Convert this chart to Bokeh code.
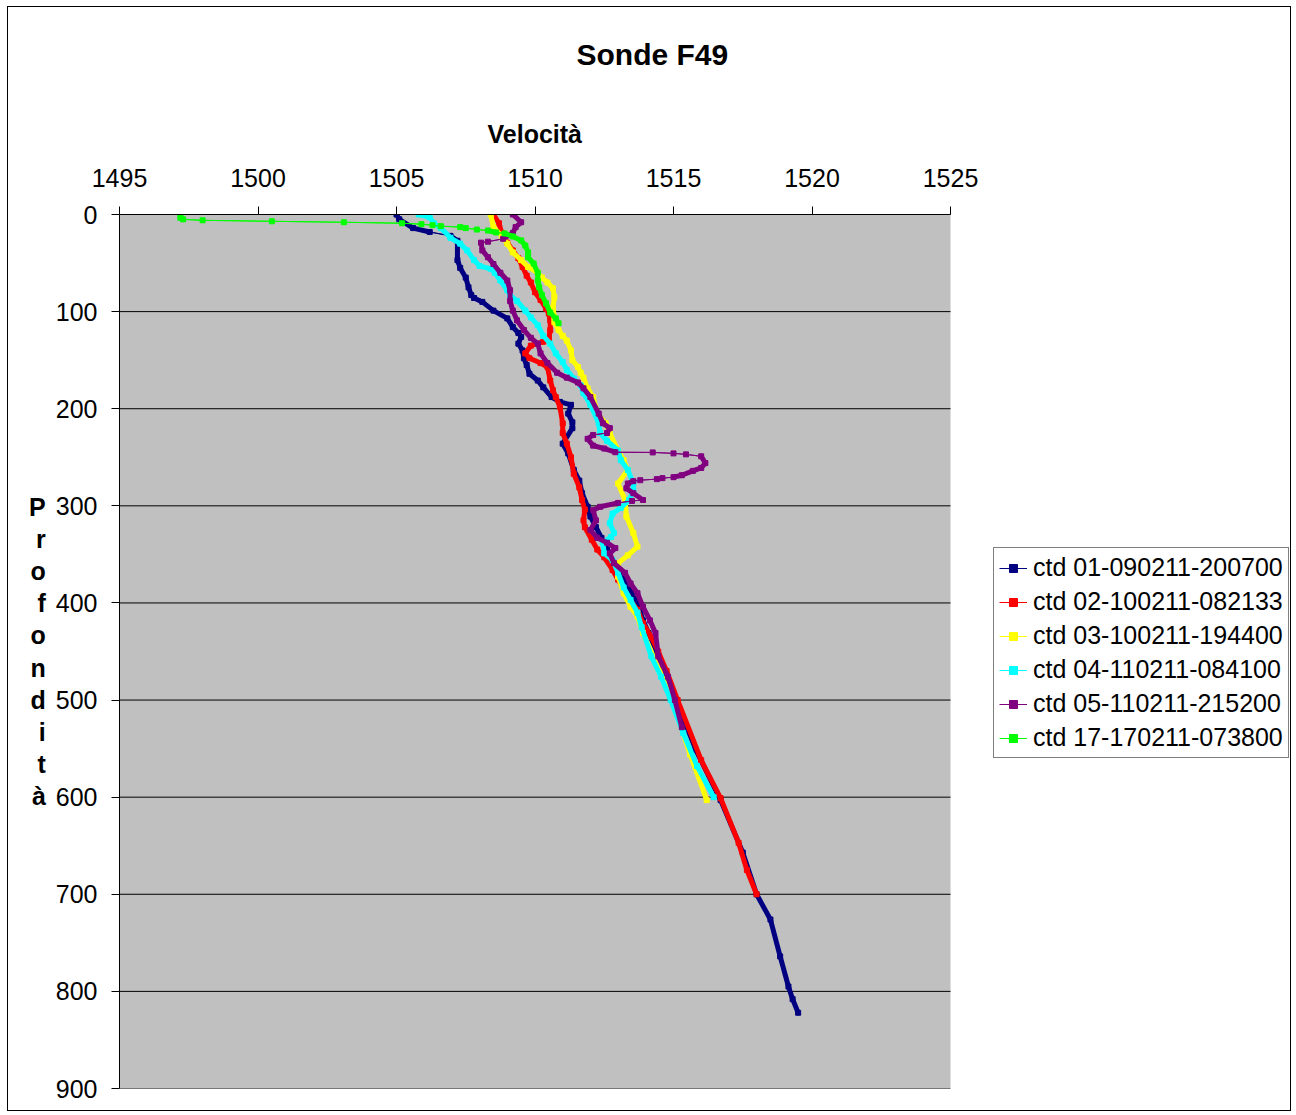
from bokeh.plotting import figure
from bokeh.models import Range1d, Legend, LegendItem, FixedTicker, ColumnDataSource, Title
from bokeh.embed import file_html
from bokeh.resources import INLINE

# ---------------- data ----------------
title_text = "Sonde F49"
x_title = "Velocità"
y_title = "Profondità"
x_ticks = [1495, 1500, 1505, 1510, 1515, 1520, 1525]
y_ticks = [0, 100, 200, 300, 400, 500, 600, 700, 800, 900]

names = ["ctd 01-090211-200700", "ctd 02-100211-082133", "ctd 03-100211-194400",
         "ctd 04-110211-084100", "ctd 05-110211-215200", "ctd 17-170211-073800"]
colors = ["#000080", "#FF0000", "#FFFF00", "#00FFFF", "#800080", "#00FF00"]

depth_01 = [0, 5, 14, 18, 22, 27, 47, 55, 65, 75, 83, 86, 90, 99, 107, 116, 122, 126, 133, 140,
            148, 155, 164, 171, 178, 188, 193, 196, 205, 214, 220, 236, 246, 263, 274, 287, 301,
            311, 322, 333, 345, 358, 369, 387, 404, 418, 431, 450, 500, 551, 603, 657, 700, 726,
            764, 795, 808, 822]
vel_01 = [1505.0, 1505.1, 1505.6, 1506.2, 1506.95, 1507.2, 1507.2, 1507.3, 1507.5, 1507.6, 1507.7,
          1507.8, 1508.1, 1508.5, 1509.0, 1509.2, 1509.4, 1509.5, 1509.4, 1509.55, 1509.6, 1509.7,
          1509.8, 1510.1, 1510.3, 1510.6, 1510.9, 1511.3, 1511.2, 1511.35, 1511.35, 1511.0, 1511.2,
          1511.4, 1511.6, 1511.7, 1511.9, 1512.0, 1512.2, 1512.4, 1512.6, 1512.8, 1513.1, 1513.45,
          1513.75, 1513.9, 1514.1, 1514.4, 1515.1, 1515.8, 1516.7, 1517.5, 1518.0, 1518.5, 1518.85,
          1519.15, 1519.3, 1519.5]

depth_02 = [0, 9, 19, 29, 37, 45, 54, 63, 70, 80, 88, 97, 102, 109, 119, 128, 131, 135, 143, 148,
            153, 157, 171, 181, 188, 198, 215, 225, 236, 250, 267, 281, 294, 304, 315, 322, 335,
            345, 353, 366, 376, 394, 407, 421, 435, 450, 470, 500, 562, 601, 647, 675, 700]
vel_02 = [1508.5, 1508.7, 1508.8, 1509.0, 1509.2, 1509.4, 1509.55, 1509.7, 1509.85, 1510.0, 1510.2,
          1510.4, 1510.5, 1510.55, 1510.55, 1510.5, 1510.3, 1509.85, 1509.65, 1509.8, 1510.2,
          1510.45, 1510.55, 1510.65, 1510.75, 1510.9, 1511.0, 1511.0, 1511.15, 1511.3, 1511.4,
          1511.6, 1511.7, 1511.8, 1511.75, 1511.8, 1512.05, 1512.25, 1512.5, 1512.8, 1513.0,
          1513.35, 1513.7, 1513.9, 1514.2, 1514.45, 1514.75, 1515.15, 1516.0, 1516.7, 1517.35,
          1517.65, 1518.0]

depth_03 = [0, 13, 22, 30, 39, 47, 54, 60, 65, 70, 76, 85, 96, 106, 111, 119, 125, 130, 140, 150,
            157, 163, 168, 179, 188, 205, 215, 225, 243, 253, 263, 277, 294, 311, 328, 342, 351,
            359, 373, 390, 404, 414, 431, 470, 500, 556, 603]
vel_03 = [1508.4, 1508.5, 1508.8, 1509.0, 1509.2, 1509.5, 1509.75, 1510.1, 1510.25, 1510.45,
          1510.65, 1510.7, 1510.65, 1510.7, 1510.7, 1510.85, 1511.0, 1511.15, 1511.3, 1511.35,
          1511.55, 1511.65, 1511.75, 1511.9, 1512.1, 1512.25, 1512.55, 1512.7, 1513.0, 1513.2,
          1513.35, 1513.0, 1513.25, 1513.3, 1513.55, 1513.7, 1513.35, 1513.0, 1513.0, 1513.2,
          1513.45, 1513.7, 1513.9, 1514.5, 1514.95, 1515.6, 1516.2]

depth_04 = [0, 3, 9, 14, 24, 30, 37, 47, 53, 56, 60, 68, 78, 83, 89, 99, 106, 114, 125, 133, 143,
            152, 160, 169, 176, 184, 196, 215, 225, 233, 243, 253, 263, 277, 284, 294, 302, 308,
            318, 328, 332, 338, 349, 356, 369, 384, 397, 410, 425, 455, 476, 500, 534, 568, 600]
vel_04 = [1505.8, 1506.2, 1506.35, 1506.6, 1506.95, 1507.3, 1507.55, 1507.8, 1508.0, 1508.4,
          1508.55, 1508.75, 1509.0, 1509.1, 1509.35, 1509.65, 1509.85, 1510.1, 1510.3, 1510.55,
          1510.75, 1511.0, 1511.15, 1511.4, 1511.65, 1511.75, 1512.0, 1512.3, 1512.35, 1512.6,
          1513.0, 1513.1, 1513.35, 1513.55, 1513.55, 1513.4, 1513.1, 1512.8, 1512.7, 1512.85,
          1512.75, 1512.45, 1512.5, 1512.8, 1513.0, 1513.2, 1513.45, 1513.7, 1513.85, 1514.2,
          1514.55, 1514.9, 1515.35, 1515.85, 1516.45]

depth_05 = [0, 8, 13, 19, 25, 28, 29, 37, 44, 51, 60, 68, 78, 89, 99, 109, 119, 127, 133, 143, 153,
            163, 168, 173, 179, 188, 205, 215, 220, 225, 227, 231, 238, 241, 244.8, 245, 246, 247,
            249, 256, 261, 264, 268.5, 270.5, 271.5, 272.5, 273.6, 274.6, 277, 282, 287, 294, 295,
            297, 301, 304.5, 315, 325, 333, 338, 343.5, 349, 359, 369, 380, 390, 404, 418, 431,
            455, 476, 500, 528]
vel_05 = [1509.2, 1509.5, 1509.3, 1509.2, 1508.85, 1508.3, 1508.05, 1508.1, 1508.3, 1508.5, 1508.75,
          1509.0, 1509.1, 1509.1, 1509.2, 1509.35, 1509.6, 1509.85, 1510.1, 1510.2, 1510.45, 1510.8,
          1511.15, 1511.55, 1511.75, 1512.0, 1512.3, 1512.45, 1512.7, 1512.6, 1512.1, 1511.9,
          1512.1, 1512.5, 1512.9, 1514.25, 1515.0, 1515.45, 1516.0, 1516.15, 1516.0, 1515.7,
          1515.3, 1515.0, 1514.6, 1514.4, 1513.8, 1513.55, 1513.35, 1513.3, 1513.55, 1513.9,
          1513.5, 1513.0, 1512.35, 1512.1, 1512.2, 1512.0, 1512.25, 1512.6, 1512.9, 1512.7,
          1512.85, 1513.25, 1513.45, 1513.7, 1513.9, 1514.15, 1514.35, 1514.45, 1514.8, 1515.05,
          1515.3]

depth_17 = [0.5, 3.5, 5, 6, 7, 8, 9, 10, 11, 12, 13, 14, 15.5, 16.5, 18.5, 19.5, 22.6, 26.7, 32, 39,
            44, 50.5, 60, 68, 75, 83, 91.5, 101, 107, 112]
vel_17 = [1497.2, 1497.2, 1497.3, 1498.0, 1500.5, 1503.1, 1505.2, 1505.9, 1506.3, 1506.6, 1507.3,
          1507.5, 1507.9, 1508.3, 1508.6, 1508.9, 1509.2, 1509.5, 1509.65, 1509.75, 1509.75,
          1509.95, 1510.1, 1510.1, 1510.15, 1510.25, 1510.4, 1510.55, 1510.75, 1510.85]

depths = [depth_01, depth_02, depth_03, depth_04, depth_05, depth_17]
vels = [vel_01, vel_02, vel_03, vel_04, vel_05, vel_17]

FONT = "Liberation Sans"

# ---------------- layout numbers (pixels) ----------------
FRAME_PLOT_W = 831      # pixel width of the gray plot area
FRAME_EXTRA_W = 342     # extra frame width on the right that hosts the legend
x_lo, x_hi = x_ticks[0], x_ticks[-1]
x_end = x_hi + FRAME_EXTRA_W * (x_hi - x_lo) / FRAME_PLOT_W

p = figure(width=1284, height=1105,
           x_range=Range1d(x_lo, x_end), y_range=Range1d(y_ticks[-1], y_ticks[0]),
           x_axis_location="above",
           output_backend="svg", toolbar_location=None,
           min_border_left=111, min_border_right=0, min_border_top=207, min_border_bottom=24)
p.styles = {"border": "1px solid black", "margin-left": "7px", "margin-top": "6px"}
p.background_fill_color = "white"
p.border_fill_color = "white"
p.outline_line_color = None

# gray plot area
p.quad(left=[x_lo], right=[x_hi], top=[y_ticks[0]], bottom=[y_ticks[-1]],
       fill_color="#C0C0C0", line_color=None)

# chart title (outermost)
p.title.text = title_text
p.title.text_font = FONT
p.title.text_font_style = "bold"
p.title.text_font_size = "30px"
p.title.text_color = "black"
p.title.align = "left"
p.title.offset = 457
p.title.vertical_align = "bottom"
p.title.standoff = 0

# x axis title, centred over the gray area
vel_title = Title(text=x_title, text_font=FONT, text_font_style="bold", text_font_size="25px",
                  text_color="black", align="left", offset=368, vertical_align="bottom",
                  standoff=36)
p.add_layout(vel_title, "above")
spacer = Title(text=" ", text_font_size="2px", standoff=25)
p.add_layout(spacer, "above")

# x axis (top)
xa = p.xaxis[0]
xa.bounds = (x_lo, x_hi)
xa.ticker = FixedTicker(ticks=x_ticks)
xa.major_label_text_font = FONT
xa.major_label_text_font_size = "25px"
xa.major_label_text_color = "black"
xa.major_label_standoff = 20
xa.major_tick_out = 8
xa.major_tick_in = 0
xa.minor_tick_out = 0
xa.minor_tick_in = 0
xa.axis_line_color = "black"
xa.major_tick_line_color = "black"

# y axis (left)
ya = p.yaxis[0]
ya.ticker = FixedTicker(ticks=y_ticks)
ya.axis_label = "\n".join(list(y_title))
ya.axis_label_orientation = "horizontal"
ya.axis_label_text_font = FONT
ya.axis_label_text_font_style = "bold"
ya.axis_label_text_font_size = "25px"
ya.axis_label_text_color = "black"
ya.axis_label_text_line_height = 1.146
ya.axis_label_standoff = 7
ya.major_label_text_font = FONT
ya.major_label_text_font_size = "25px"
ya.major_label_text_color = "black"
ya.major_label_standoff = 14
ya.major_tick_out = 8
ya.major_tick_in = 0
ya.minor_tick_out = 0
ya.minor_tick_in = 0
ya.axis_line_color = "black"
ya.major_tick_line_color = "black"

p.xgrid.visible = False
p.ygrid.visible = False
# horizontal grid lines limited to the gray area
p.segment(x0=[x_lo] * len(y_ticks), y0=y_ticks, x1=[x_hi] * len(y_ticks), y1=y_ticks,
          line_color="black", line_width=1)

# ---------------- series ----------------
items = []
for name, d, v, c in zip(names, depths, vels, colors):
    r_line = p.line(v, d, line_color=c, line_width=1)
    x0, y0, x1, y1, w = [], [], [], [], []
    for i in range(len(d) - 1):
        dd = abs(d[i + 1] - d[i])
        dv = abs(v[i + 1] - v[i])
        slope = dv / dd if dd > 0 else 99
        x0.append(v[i]); y0.append(d[i]); x1.append(v[i + 1]); y1.append(d[i + 1])
        w.append(1 if slope > 0.17 else 5)
    src = ColumnDataSource(dict(x0=x0, y0=y0, x1=x1, y1=y1, w=w))
    p.segment("x0", "y0", "x1", "y1", source=src, line_color=c, line_width="w", line_cap="round")
    r_sc = p.scatter(v, d, marker="square", size=5, fill_color=c, line_color=c)
    items.append(LegendItem(label=name, renderers=[r_line, r_sc]))

legend = Legend(items=items, location=(874, 330))
legend.label_text_font = FONT
legend.label_text_font_size = "25px"
legend.label_text_color = "black"
legend.label_height = 28
legend.glyph_height = 20
legend.glyph_width = 28
legend.label_standoff = 6
legend.spacing = 5
legend.padding = 5
legend.margin = 0
legend.border_line_color = "black"
legend.border_line_width = 1
legend.background_fill_color = "white"
legend.background_fill_alpha = 1
p.add_layout(legend, "center")

open("out.html", "w").write(file_html(p, INLINE))
